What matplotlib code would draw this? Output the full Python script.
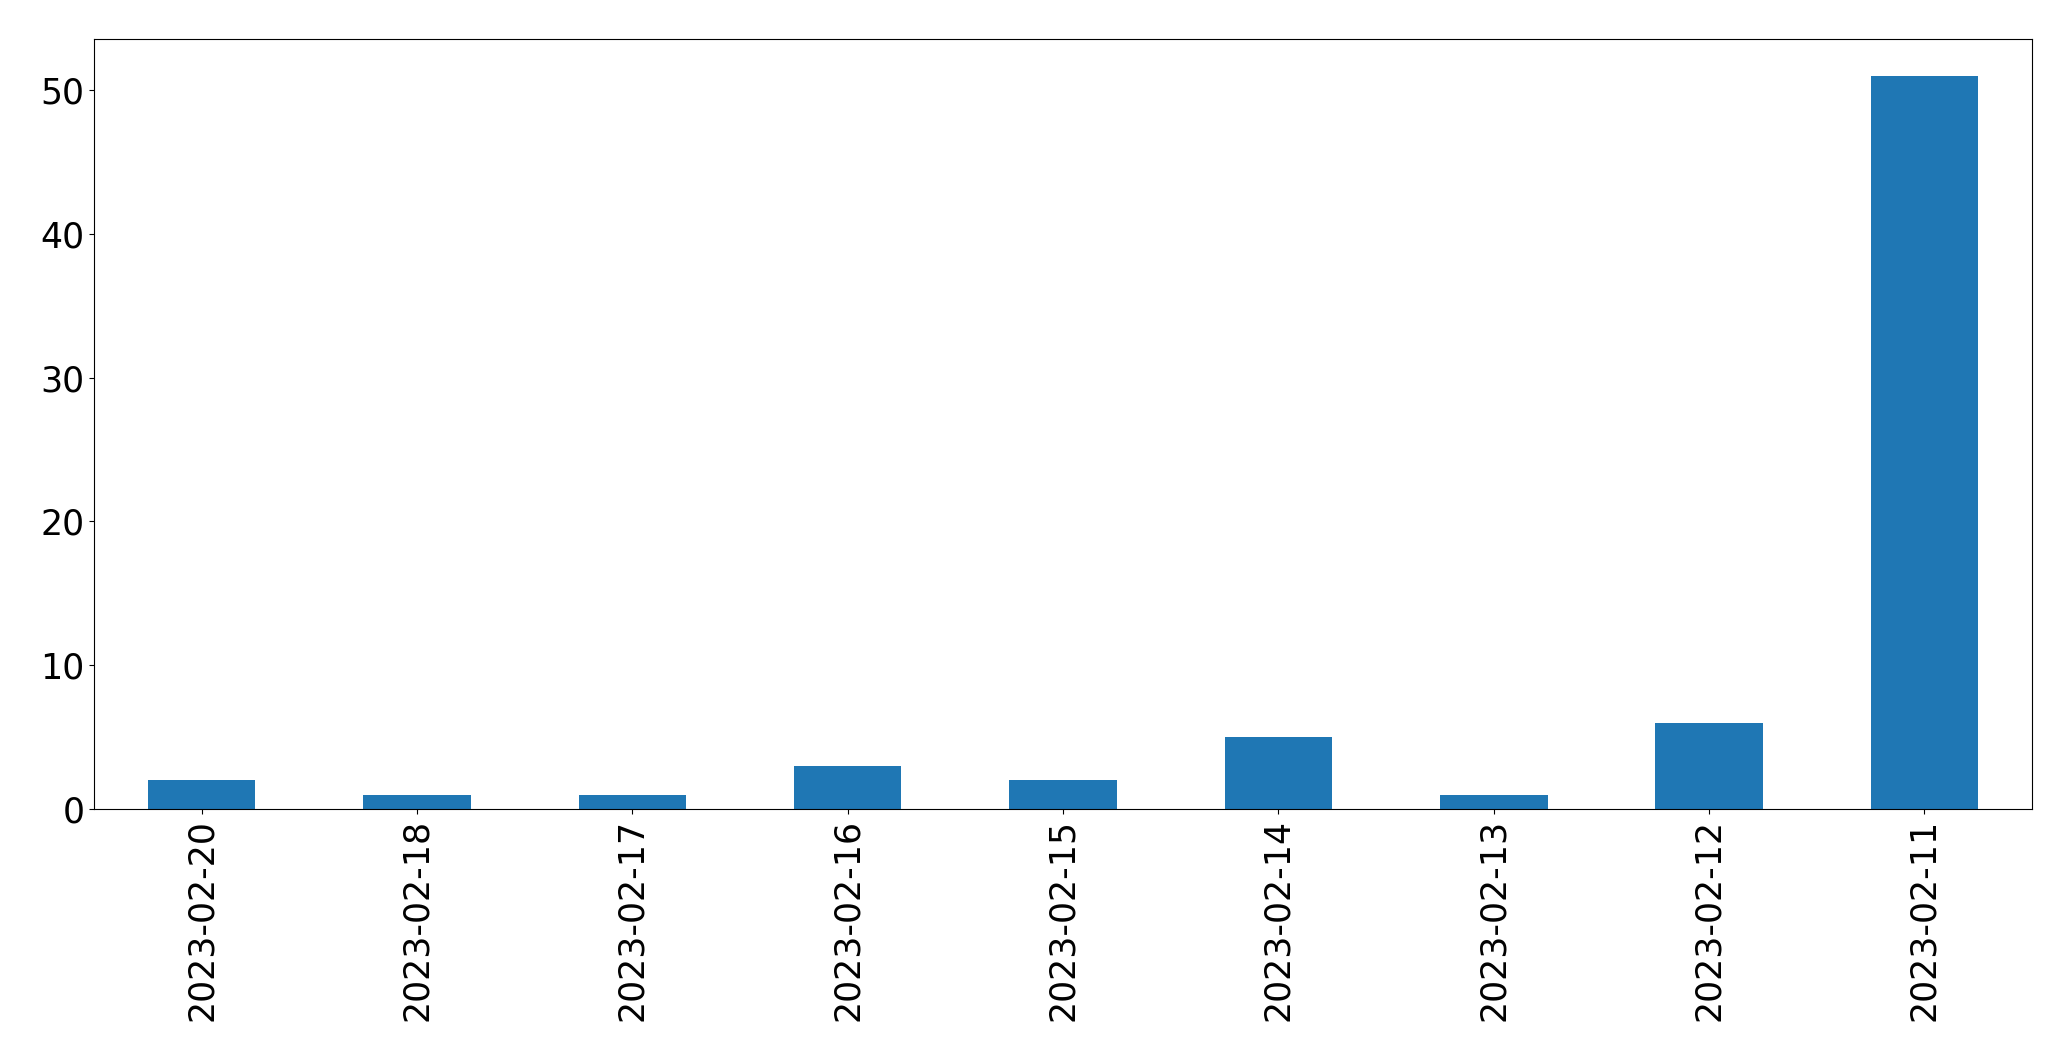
import pandas as pd
import matplotlib
matplotlib.use("Agg")
from matplotlib import pyplot as plt

# counts per day
dates = ['2023-02-20', '2023-02-18', '2023-02-17', '2023-02-16', '2023-02-15',
         '2023-02-14', '2023-02-13', '2023-02-12', '2023-02-11']
counts = [2, 1, 1, 3, 2, 5, 1, 6, 51]

s = pd.Series(counts, index=dates)

fig = plt.figure(figsize=(20.71, 10.61), dpi=100)
ax = fig.add_axes([94/2071, (1061-809)/1061, 1938/2071, 770/1061])
s.plot(kind='bar', ax=ax, fontsize=25)

fig.savefig('out.png', dpi=100)
